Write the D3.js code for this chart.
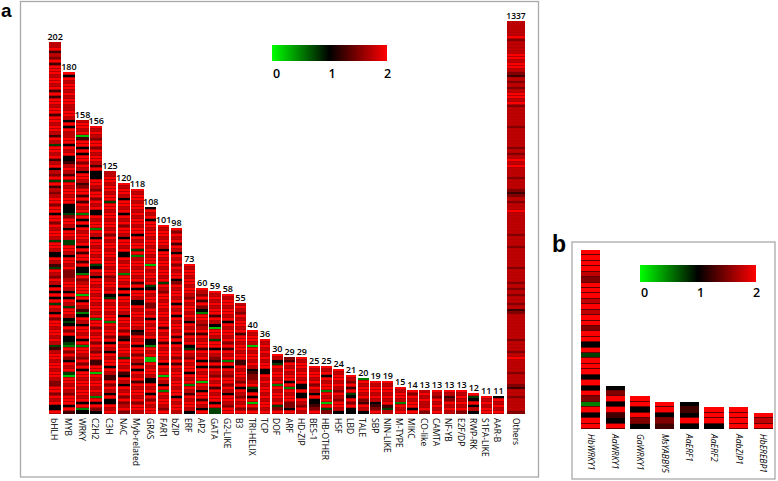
<!DOCTYPE html>
<meta charset="utf-8">
<style>
  body { margin: 0; background: #fff; }
  text { font-family: "Open Sans", sans-serif; fill: #000; }
</style>
<script src="https://d3js.org/d3.v7.min.js"></script>
<svg id="chart" width="778" height="481"></svg>
<script>

// Panel a: families, gene counts
const familiesA = ["bHLH","MYB","WRKY","C2H2","C3H","NAC","Myb-related","GRAS","FAR1","bZIP","ERF","AP2","GATA","G2-LIKE","B3","TRI-HELIX","TCP","DOF","ARF","HD-ZIP","BES-1","HB-OTHER","HSF","LBD","TALE","SBP","NIN-LIKE","M-TYPE","MIKC","CO-like","CAMTA","NF-YB","E2F/DP","RWP-RK","S1FA-LIKE","AAR-B"];
const countsA = [202,180,158,156,125,120,118,108,101,98,73,60,59,58,55,40,36,30,29,29,25,25,24,21,20,19,19,15,14,13,13,13,13,12,11,11];

// Heat cells per family, top to bottom. One digit per row, expression = digit / 4 (0 to 2)
const cellsA = [
  "7785768588"+"8788785858"+"8788588788"+"7587388785"+"7847683857"+"6788688488"+"6878873887"+"4487538768"+"7484848387"+"4868878878"+"7357887887"+"8876688687"+"8448",
  "8487887878"+"8778874848"+"7788487844"+"5787583878"+"8788444368"+"8748873388"+"7488786667"+"8874848738"+"8743486844"+"3286864878"+"3188787688"+"8485",
  "7887815884"+"8488687488"+"7568858587"+"8284848788"+"7848588584"+"4286788818"+"4875248748"+"8784828876"+"8684887887"+"88784824",
  "8787688687"+"8875844488"+"7688687844"+"8788287488"+"7887883487"+"4887887887"+"8878288687"+"8868768855"+"8818788787"+"284864",
  "7788788788"+"3887887887"+"8687887887"+"8878867887"+"8438788788"+"2878868487"+"4878848755"+"86874844878",
  "8788748878"+"4878688748"+"8784487887"+"2887848488"+"7887488786"+"8548788738"+"8785487487"+"8686786",
  "8788788787"+"8878848788"+"3827887887"+"8584887448"+"7887887458"+"7848868758"+"4878587887"+"86887",
  "4878488788"+"7887887881"+"8788783487"+"8866878487"+"8878442878"+"1187887448"+"784868788",
  "8788788748"+"8788788783"+"8768878878"+"8788587885"+"8788784878"+"1874828788"+"768",
  "8687858748"+"7868788468"+"7887848784"+"8788785848"+"7886858788"+"788788487887",
  "8788788788"+"7687887874"+"8785878438"+"7687884878"+"2875878874",
  "8768586428"+"8767858788"+"5878484878"+"818748858748",
  "8787878858"+"7418873884"+"8765858768"+"78587884833",
  "8788788784"+"8788786858"+"7828487688"+"6874887688",
  "7876878878"+"5887887885"+"5878876848"+"7687868",
  "8788718788"+"7874566783"+"48481868",
  "8787878788"+"44"+"8787887878878",
  "87438788782878878368",
  "6587878848287886648",
  "8788788784484487687",
  "8788786874844568",
  "8784878828781836",
  "878878768768874",
  "8768583486844",
  "287887865874",
  "87887874568",
  "87887878537",
  "878872878",
  "86878848",
  "78787786",
  "87687878",
  "87568787",
  "87878786",
  "8348474",
  "878788",
  "487878"
];

const othersName = "Others";
const othersCount = 1337;
const othersCells = "7777786777"+"7887887657"+"6767887867"+"7777767777"+"7767678787"+"7767776567"+"6778777777"+"7677767777"+"7767777676"+"7677675677"+"7777776777"+"6787777677"+"76577677776";

// Panel b: genes
const genesB = ["HbWRKY1","AaWRKY1","GaWRKY1","MsYABBY5","AaERF1","AaERF2","AabZIP1","HbEREBP1"];
const cellsB = [
  "888876888787886"+"88483"+"8884848"+"6"+"28488",
  "46848548",
  "884864",
  "88465",
  "45484",
  "8884",
  "8888",
  "878"
];

const legendTicks = [0, 1, 2];

const svg = d3.select("#chart");
const color = d3.scaleLinear().domain([0, 1, 2]).range(["#00ff00", "#000000", "#ff0000"]);
const level = c => +c / 4;

// Panel frames and letters
const frames = [
  {x: 20.5, y: 1.5, w: 518, h: 475.5, letter: "a", lx: 1, ly: 17.2, size: 19},
  {x: 572, y: 242, w: 203, h: 237, letter: "b", lx: 552, ly: 252, size: 23}
];
svg.selectAll("rect.frame").data(frames).join("rect")
  .attr("class", "frame")
  .attr("x", d => d.x).attr("y", d => d.y)
  .attr("width", d => d.w).attr("height", d => d.h)
  .attr("fill", "none").attr("stroke", "#a9a9a9").attr("stroke-width", 1.3);
svg.selectAll("text.letter").data(frames).join("text")
  .attr("class", "letter")
  .attr("x", d => d.lx).attr("y", d => d.ly)
  .style("font-family", "'Liberation Sans', sans-serif")
  .style("font-weight", "bold").style("font-size", d => d.size + "px")
  .text(d => d.letter);

// Column scales. The columns of panel a get tighter to the right, as in the figure
const xA = d3.scaleLinear().domain([0, 7, 14, 35, 36]).range([49, 145, 235, 493, 505.2]);
const yA = d3.scaleLinear().domain([0, 131]).range([414, 21]);
const xB = d3.scaleBand().domain(genesB).range([581, 773]).paddingInner(0.21).paddingOuter(0);
const yB = d3.scaleLinear().domain([0, 33]).range([429, 250]);

// each row: an under layer that shows through the gap, then the cell on top of it
function drawColumn(g, cells, x, w, y, gap, gapCap) {
  const n = cells.length;
  const rows = Array.from(cells);
  g.selectAll("rect.under").data(rows).join("rect")
    .attr("class", "under")
    .attr("x", x)
    .attr("y", (d, i) => y(n - i))
    .attr("width", w)
    .attr("height", (d, i) => y(n - i - 1) - y(n - i))
    .attr("fill", (d, i) => color(Math.min(gapCap, Math.max(level(d), level(rows[i + 1] || d)))));
  g.selectAll("rect.cell").data(rows).join("rect")
    .attr("class", "cell")
    .attr("x", x)
    .attr("y", (d, i) => y(n - i))
    .attr("width", w)
    .attr("height", (d, i) => y(n - i - 1) - y(n - i) - gap)
    .attr("fill", d => color(level(d)));
}

// Panel a
const panelA = svg.append("g").attr("shape-rendering", "crispEdges");
const labelsA = svg.append("g");
familiesA.forEach((name, i) => {
  const x = xA(i), w = xA(i + 1) - xA(i) - 1.4;
  drawColumn(panelA.append("g"), cellsA[i], x, w, yA, 1, 1.7);
  labelsA.append("text")
    .attr("x", x + w / 2).attr("y", yA(cellsA[i].length) - 2)
    .attr("text-anchor", "middle")
    .style("font-size", "9px").style("font-weight", 600)
    .text(countsA[i]);
  labelsA.append("text")
    .attr("transform", `translate(${x + w / 2 - 4},418) rotate(90)`)
    .style("font-size", "8.5px").style("font-weight", 500)
    .text(name);
});
drawColumn(panelA.append("g"), othersCells, 507, 18, yA, 1, 1.7);
labelsA.append("text").attr("x", 516).attr("y", 19).attr("text-anchor", "middle")
  .style("font-size", "8.5px").style("font-weight", 600).text(othersCount);
labelsA.append("text").attr("transform", "translate(513,418) rotate(90)")
  .style("font-size", "8.5px").style("font-weight", 500).text(othersName);

// Panel b
const panelB = svg.append("g").attr("shape-rendering", "crispEdges");
genesB.forEach((name, i) => {
  drawColumn(panelB.append("g"), cellsB[i], xB(name), xB.bandwidth(), yB, 1, 1.4);
  svg.append("text")
    .attr("transform", `translate(${xB(name) + xB.bandwidth() / 2 - 3},434) rotate(90)`)
    .style("font-size", "8.5px").style("font-style", "italic").style("font-weight", 500)
    .text(name);
});

// Legends
const defs = svg.append("defs");
const grad = defs.append("linearGradient").attr("id", "legendGrad");
grad.selectAll("stop").data(legendTicks).join("stop")
  .attr("offset", d => d / 2)
  .attr("stop-color", d => color(d));

function legend(x0, x1, y0, y1, tick0, tick1, tickY) {
  svg.append("rect").attr("x", x0).attr("y", y0)
    .attr("width", x1 - x0).attr("height", y1 - y0)
    .attr("fill", "url(#legendGrad)");
  const scale = d3.scaleLinear().domain([0, 2]).range([tick0, tick1]);
  const ax = svg.append("g").attr("transform", `translate(0,${tickY})`)
    .call(d3.axisBottom(scale).tickValues(legendTicks).tickFormat(d3.format("d")).tickSize(0));
  ax.select(".domain").remove();
  ax.selectAll("text")
    .style("font-family", "'Open Sans', sans-serif")
    .style("font-size", "12.5px").style("font-weight", 600);
}
legend(272, 387, 45, 61, 276, 387, 66);
legend(640, 756, 265, 282, 644, 756, 285);

</script>
